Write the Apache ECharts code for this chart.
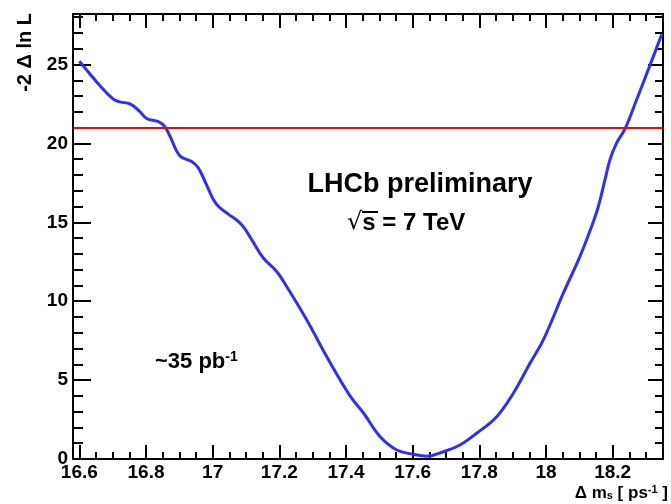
<!DOCTYPE html>
<html>
<head>
<meta charset="utf-8">
<script src="https://cdn.jsdelivr.net/npm/echarts@6/dist/echarts.min.js"></script>
<style>
  html, body { margin: 0; padding: 0; background: #fff; }
  #chart { width: 671px; height: 504px; }
</style>
</head>
<body>
<div id="chart"></div>
<script>
// Likelihood scan: -2 Δ ln L versus Δm_s
var deltaMs = [16.600, 16.630, 16.660, 16.702, 16.722, 16.752, 16.780, 16.802, 16.837, 16.857,
               16.872, 16.902, 16.937, 16.957, 16.982, 17.002, 17.020, 17.045, 17.087, 17.117,
               17.152, 17.192, 17.222, 17.282, 17.342, 17.412, 17.453, 17.502, 17.552, 17.602,
               17.642, 17.692, 17.742, 17.792, 17.852, 17.902, 17.952, 17.992, 18.052, 18.102,
               18.137, 18.157, 18.177, 18.192, 18.212, 18.237, 18.272, 18.310, 18.347];
var twoDeltaLnL = [25.20, 24.45, 23.70, 22.80, 22.63, 22.50, 22.05, 21.58, 21.38, 21.05,
                   20.45, 19.20, 18.85, 18.45, 17.35, 16.45, 15.95, 15.55, 14.85, 13.90,
                   12.74, 11.88, 10.93, 8.82, 6.49, 4.00, 2.90, 1.42, 0.57, 0.30,
                   0.18, 0.46, 0.89, 1.63, 2.68, 4.17, 6.07, 7.55, 10.51, 12.84,
                   14.74, 16.00, 17.70, 18.97, 20.03, 20.92, 22.78, 24.85, 26.90];

// Horizontal reference level
var thresholdLevel = 21;

// Axis ticks and labels
var xMajorTicks = [16.6, 16.8, 17.0, 17.2, 17.4, 17.6, 17.8, 18.0, 18.2];
var xMinorTicks = [16.65, 16.7, 16.75, 16.85, 16.9, 16.95, 17.05, 17.1, 17.15, 17.25, 17.3, 17.35,
                   17.45, 17.5, 17.55, 17.65, 17.7, 17.75, 17.85, 17.9, 17.95, 18.05, 18.1, 18.15,
                   18.25, 18.3, 18.35];
var yMajorTicks = [0, 5, 10, 15, 20, 25];
var yMinorTicks = [1, 2, 3, 4, 6, 7, 8, 9, 11, 12, 13, 14, 16, 17, 18, 19, 21, 22, 23, 24, 26, 27, 28];

var xRange = [16.581, 18.351];
var yRange = [0, 28.2];

var axisColor = '#000';
var labelFont = { color: '#000', fontFamily: 'Liberation Sans, Arial, sans-serif', fontWeight: 'bold', fontSize: 19 };

function makeAxis(kind, position, ticks, tickLen, showLine, showLabel) {
  var isX = kind === 'x';
  var ax = {
    type: 'value',
    position: position,
    min: isX ? xRange[0] : yRange[0],
    max: isX ? xRange[1] : yRange[1],
    splitLine: { show: false },
    axisLine: { show: showLine, onZero: false, lineStyle: { color: axisColor, width: 2 } },
    axisTick: { show: true, inside: true, length: tickLen, customValues: ticks,
                lineStyle: { color: axisColor, width: 2 } },
    axisLabel: { show: showLabel }
  };
  if (showLabel) {
    ax.axisLabel = Object.assign({
      show: true,
      customValues: ticks,
      margin: isX ? 4 : 5,
      formatter: function (v) { return String(+(+v).toFixed(1)); }
    }, labelFont);
  }
  return ax;
}

var chart = echarts.init(document.getElementById('chart'), null, { renderer: 'canvas' });

var lineData = deltaMs.map(function (x, i) { return [x, twoDeltaLnL[i]]; });

var textFont = 'Liberation Sans, Arial, sans-serif';

chart.setOption({
  animation: false,
  backgroundColor: '#fff',
  grid: { left: 73, right: 8, top: 14, bottom: 45, containLabel: false },
  xAxis: [
    makeAxis('x', 'bottom', xMajorTicks, 14, true, true),
    makeAxis('x', 'bottom', xMinorTicks, 7, false, false),
    makeAxis('x', 'top', xMajorTicks, 14, true, false),
    makeAxis('x', 'top', xMinorTicks, 7, false, false)
  ],
  yAxis: [
    makeAxis('y', 'left', yMajorTicks, 18, true, true),
    makeAxis('y', 'left', yMinorTicks, 10, false, false),
    makeAxis('y', 'right', yMajorTicks, 15, true, false),
    makeAxis('y', 'right', yMinorTicks, 8, false, false)
  ],
  series: [{
    type: 'line',
    xAxisIndex: 0,
    yAxisIndex: 0,
    data: lineData,
    smooth: 0.4,
    showSymbol: false,
    clip: true,
    lineStyle: { color: '#2e2eff', width: 3 },
    markLine: {
      silent: true,
      symbol: 'none',
      label: { show: false },
      lineStyle: { color: '#ff0000', width: 2, type: 'solid' },
      data: [{ yAxis: thresholdLevel }]
    }
  }],
  graphic: [
    {
      type: 'text', x: 420, y: 185,
      style: { text: 'LHCb preliminary', fill: '#000', font: 'bold 27px ' + textFont,
               align: 'center', verticalAlign: 'middle' }
    },
    {
      type: 'text', x: 347, y: 223,
      style: {
        text: '{r|√}{t|s = 7 TeV}', fill: '#000', align: 'left', verticalAlign: 'middle',
        rich: {
          r: { font: '24px DejaVu Sans, sans-serif', fill: '#000' },
          t: { font: 'bold 24px ' + textFont, fill: '#000' }
        }
      }
    },
    {
      type: 'line', shape: { x1: 362, y1: 212, x2: 378, y2: 212 },
      style: { stroke: '#000', lineWidth: 2 }
    },
    {
      type: 'text', x: 155, y: 362,
      style: {
        text: '{m|~35 pb}{s|-1}', fill: '#000', align: 'left', verticalAlign: 'middle',
        rich: {
          m: { font: 'bold 22px ' + textFont, fill: '#000' },
          s: { font: 'bold 14px ' + textFont, fill: '#000', verticalAlign: 'top', padding: [0, 0, 10, 0] }
        }
      }
    },
    {
      type: 'text', x: 25, y: 13, rotation: Math.PI / 2,
      style: { text: '-2 Δ ln L', fill: '#000', font: 'bold 20px ' + textFont,
               align: 'right', verticalAlign: 'middle' }
    },
    {
      type: 'text', x: 668, y: 493,
      style: {
        text: '{a|Δ m}{b|s}{a| [ ps}{c|-1}{a| ]}', fill: '#000', align: 'right', verticalAlign: 'middle',
        rich: {
          a: { font: 'bold 17px ' + textFont, fill: '#000' },
          b: { font: 'bold 11px ' + textFont, fill: '#000', padding: [6, 0, 0, 0] },
          c: { font: 'bold 11px ' + textFont, fill: '#000', padding: [0, 0, 7, 0] }
        }
      }
    }
  ]
});
</script>
</body>
</html>
